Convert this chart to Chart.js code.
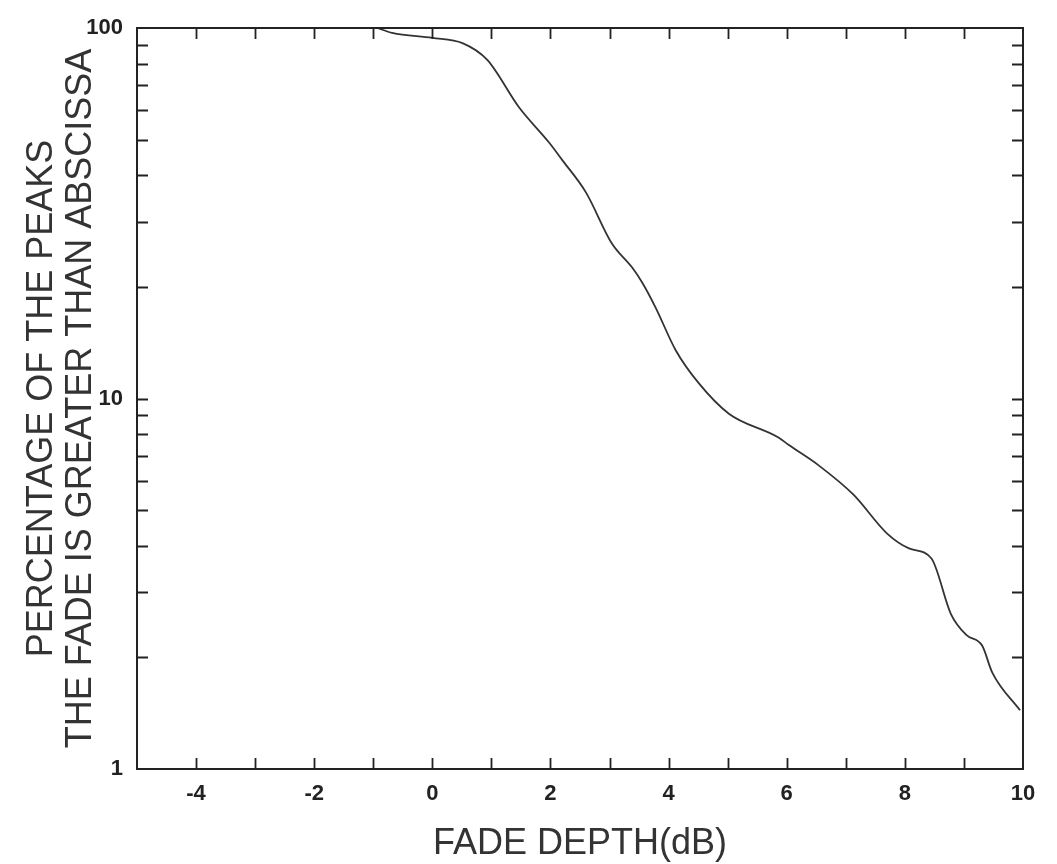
<!DOCTYPE html>
<html>
<head>
<meta charset="utf-8">
<script src="https://cdn.jsdelivr.net/npm/chart.js@4.4.0/dist/chart.umd.min.js"></script>
<style>
  html, body { margin: 0; padding: 0; background: #ffffff; }
  #wrap { width: 1057px; height: 864px; position: relative; }
</style>
</head>
<body>
<div id="wrap"><canvas id="c" width="1057" height="864"></canvas></div>
<script>
// ---- data ----
const fadeDepthDb = [-0.93, -0.68, 0, 0.51, 0.93, 1.47, 1.98, 2.2, 2.6, 3.04, 3.38, 3.55, 3.78, 4.12, 4.51, 5.02, 5.86, 6.03, 6.54, 7.13, 7.7, 8.07, 8.45, 8.78, 9.04, 9.31, 9.48, 9.95];
const percentPeaks = [100, 97, 94, 91, 82, 61, 49, 44, 36, 26.2, 22.6, 20.6, 17.6, 13.5, 11.0, 9.1, 7.85, 7.5, 6.6, 5.5, 4.32, 3.94, 3.7, 2.62, 2.3, 2.15, 1.82, 1.44];
const xTickLabels = [-4, -2, 0, 2, 4, 6, 8, 10];
const yTickLabels = [1, 10, 100];
const xMinorTicks = [-4, -3, -2, -1, 0, 1, 2, 3, 4, 5, 6, 7, 8, 9];
const yMinorTicks = [2, 3, 4, 5, 6, 7, 8, 9, 10, 20, 30, 40, 50, 60, 70, 80, 90];
const xTitle = 'FADE DEPTH(dB)';
const yTitle = ['PERCENTAGE OF THE PEAKS', 'THE FADE IS GREATER THAN ABSCISSA'];

const points = fadeDepthDb.map((x, i) => ({ x: x, y: percentPeaks[i] }));

const framePlugin = {
  id: 'frame',
  afterDraw(chart) {
    const { ctx, chartArea: a, scales } = chart;
    const xs = scales.x, ys = scales.y;
    ctx.save();
    ctx.strokeStyle = '#222';
    ctx.lineWidth = 2;
    ctx.strokeRect(a.left, a.top, a.right - a.left, a.bottom - a.top);
    ctx.lineWidth = 1.8;
    const tl = 11;
    ctx.beginPath();
    xMinorTicks.forEach(v => {
      const px = Math.round(xs.getPixelForValue(v)) + 0.5;
      ctx.moveTo(px, a.bottom); ctx.lineTo(px, a.bottom - tl);
      ctx.moveTo(px, a.top); ctx.lineTo(px, a.top + tl);
    });
    yMinorTicks.forEach(v => {
      const py = Math.round(ys.getPixelForValue(v)) + 0.5;
      ctx.moveTo(a.left, py); ctx.lineTo(a.left + tl, py);
      ctx.moveTo(a.right, py); ctx.lineTo(a.right - tl, py);
    });
    ctx.stroke();
    ctx.restore();
  }
};

new Chart(document.getElementById('c'), {
  type: 'line',
  data: {
    datasets: [{
      data: points,
      borderColor: '#333333',
      borderWidth: 1.8,
      pointRadius: 0,
      fill: false,
      cubicInterpolationMode: 'monotone'
    }]
  },
  options: {
    responsive: false,
    animation: false,
    layout: { padding: { left: 0, top: 28, right: 34, bottom: 0 } },
    plugins: { legend: { display: false }, tooltip: { enabled: false } },
    scales: {
      x: {
        type: 'linear',
        min: -5, max: 10,
        grid: { display: false, drawTicks: false },
        border: { display: false },
        afterBuildTicks(s) { s.ticks = xTickLabels.map(v => ({ value: v })); },
        afterFit(s) { s.height = 95; },
        ticks: {
          padding: 12,
          color: '#222',
          font: { family: 'Liberation Sans, Arial, sans-serif', size: 22, weight: 'bold' },
          maxRotation: 0,
          callback: v => String(v)
        },
        title: {
          display: true,
          text: xTitle,
          color: '#333',
          font: { family: 'Liberation Sans, Arial, sans-serif', size: 36, lineHeight: 1.1 },
          padding: { top: 0, bottom: 0 }
        }
      },
      y: {
        type: 'logarithmic',
        min: 1, max: 100,
        grid: { display: false, drawTicks: false },
        border: { display: false },
        afterBuildTicks(s) { s.ticks = yTickLabels.map(v => ({ value: v })); },
        afterFit(s) { s.width = 137; },
        ticks: {
          padding: 14,
          color: '#222',
          font: { family: 'Liberation Sans, Arial, sans-serif', size: 22, weight: 'bold' },
          callback: v => String(v)
        },
        title: {
          display: true,
          text: yTitle,
          color: '#333',
          font: { family: 'Liberation Sans, Arial, sans-serif', size: 36, lineHeight: 1.1 },
          padding: { top: 22, bottom: 0 }
        }
      }
    }
  },
  plugins: [framePlugin]
});
</script>
</body>
</html>
